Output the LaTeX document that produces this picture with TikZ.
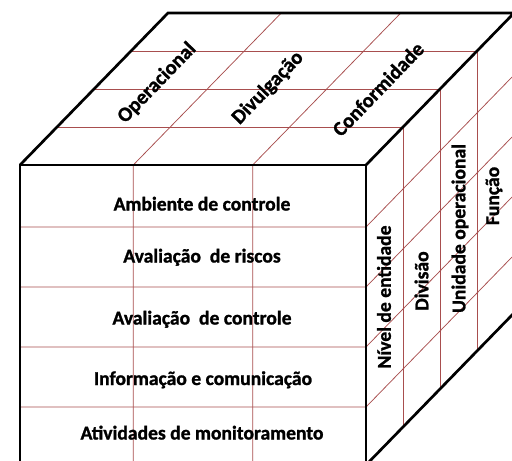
\documentclass[tikz,border=0pt]{standalone}
\usepackage{fontspec}
\setmainfont{Carlito}[BoldFeatures={FakeBold=1.2}]
\definecolor{gridred}{RGB}{168,78,78}
\tikzset{
  gridline/.style={draw=gridred,line width=0.75pt},
  edge/.style={draw=black,line width=2.7pt,line join=miter},
  lbl/.style={font=\fontsize{19.6}{22}\selectfont\bfseries,inner sep=0pt},
  toplbl/.style={font=\fontsize{20.5}{24}\selectfont\bfseries,inner sep=0pt,rotate=46},
}
\begin{document}
\begin{tikzpicture}[x=1pt,y=-1pt]
\useasboundingbox (0,0) rectangle (512,461);
\clip (0,0) rectangle (512,461);
\fill[white] (0,0) rectangle (512,461);
% corners
\coordinate (F1) at (20,165);
\coordinate (F2) at (366,165);
\coordinate (F3) at (366,465);
\coordinate (F4) at (20,465);
\coordinate (B1) at (168,13);
\coordinate (B2) at (514,13);
\coordinate (B3) at (514,313);
% front face grid
\foreach \y in {227,287,347,407}{
  \draw[gridline] (20,\y) -- (366,\y) -- ++(148,-152);
}
\foreach \x in {133.3,252.7}{
  \draw[gridline] (\x,465) -- (\x,165) -- ++(148,-152);
}
% depth divisions on top and right faces
\foreach \k in {1,2,3}{
  \pgfmathsetmacro{\dx}{37*\k}
  \pgfmathsetmacro{\dy}{38*\k}
  \draw[gridline] (20+\dx,165-\dy) -- (366+\dx,165-\dy) -- (366+\dx,465-\dy);
}
% labels front
\node[lbl,anchor=base] (r1) at (202,210.5) {Ambiente de controle};
\node[lbl,anchor=base] (r2) at (202,262.5) {Avaliação\ \ de riscos};
\node[lbl,anchor=base] (r3) at (202,324.5) {Avaliação\ \ de controle};
\node[lbl,anchor=base] (r4) at (203,385) {Informação e comunicação};
\node[lbl,anchor=base] (r5) at (202,439.5) {Atividades de monitoramento};
% labels top
\node[toplbl] (t1) at (157,83) {Operacional};
\node[toplbl] (t2) at (268,88) {Divulgação};
\node[toplbl] (t3) at (378,89) {Conformidade};
% labels right
\node[lbl,rotate=90] (s1) at (384,297) {Nível de entidade};
\node[lbl,rotate=90] (s2) at (421.5,281) {Divisão};
\node[lbl,rotate=90] (s3) at (460,228.5) {Unidade operacional};
\node[lbl,rotate=90] (s4) at (494,196) {Função};
% outline
\draw[edge] (F1) -- (F2) -- (F3) -- (F4) -- cycle;
\draw[edge] (F1) -- (B1) -- (B2) -- (F2);
\draw[edge] (B2) -- (B3) -- (F3);
\end{tikzpicture}
\end{document}
